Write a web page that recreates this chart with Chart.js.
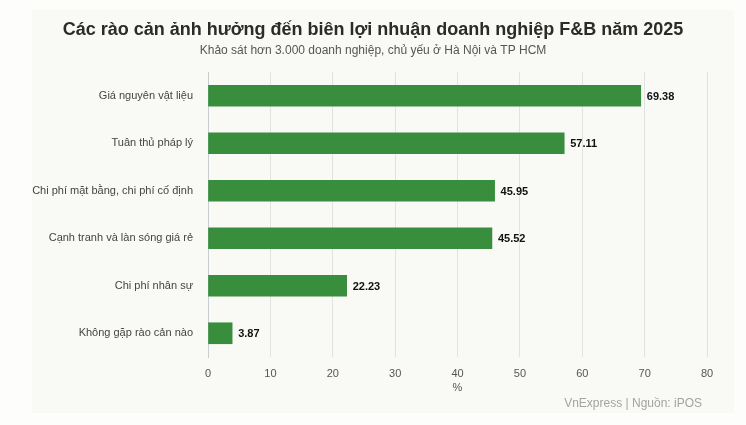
<!DOCTYPE html>
<html>
<head>
<meta charset="utf-8">
<script src="https://cdn.jsdelivr.net/npm/chart.js@4"></script>
<style>
  html, body { margin: 0; padding: 0; background: #fdfdfb; }
  #wrap { width: 746px; height: 425px; }
</style>
</head>
<body>
<div id="wrap"><canvas id="barrier"></canvas></div>
<script>
const categories = [
  'Giá nguyên vật liệu',
  'Tuân thủ pháp lý',
  'Chi phí mặt bằng, chi phí cố định',
  'Cạnh tranh và làn sóng giá rẻ',
  'Chi phí nhân sự',
  'Không gặp rào cản nào'
];
const shares = [69.38, 57.11, 45.95, 45.52, 22.23, 3.87];
const xTicks = [0, 10, 20, 30, 40, 50, 60, 70, 80];

const titleText = 'Các rào cản ảnh hưởng đến biên lợi nhuận doanh nghiệp F&B năm 2025';
const subtitleText = 'Khảo sát hơn 3.000 doanh nghiệp, chủ yếu ở Hà Nội và TP HCM';
const sourceText = 'VnExpress | Nguồn: iPOS';

const FONT = '"Liberation Sans", Arial, sans-serif';

// nền hai lớp giống ảnh gốc
const bgPlugin = {
  id: 'bg',
  beforeDraw(chart) {
    const c = chart.ctx;
    c.save();
    c.fillStyle = '#fdfdfb';
    c.fillRect(0, 0, chart.width, chart.height);
    c.fillStyle = '#f9faf6';
    c.fillRect(32, 10, chart.width - 44, chart.height - 22);
    c.restore();
  }
};

// tiêu đề, nhãn giá trị cạnh thanh, dòng nguồn
const labelPlugin = {
  id: 'labels',
  afterDatasetsDraw(chart) {
    const c = chart.ctx;
    const meta = chart.getDatasetMeta(0);
    c.save();
    c.font = 'bold 11px ' + FONT;
    c.fillStyle = '#111';
    c.textAlign = 'left';
    c.textBaseline = 'middle';
    meta.data.forEach((bar, i) => {
      c.fillText(shares[i].toFixed(2), bar.x + 6, bar.y + 1);
    });
    c.restore();
  },
  afterDraw(chart) {
    const c = chart.ctx;
    const mid = chart.width / 2;
    c.save();
    c.textBaseline = 'middle';
    c.textAlign = 'center';
    c.font = 'bold 18px ' + FONT;
    c.fillStyle = '#2b2b2b';
    c.fillText(titleText, mid, 30);
    c.font = '12px ' + FONT;
    c.fillStyle = '#555';
    c.fillText(subtitleText, mid, 51);
    c.textAlign = 'right';
    c.fillStyle = '#a3a3a3';
    c.fillText(sourceText, 702, 404);
    c.restore();
  }
};

new Chart(document.getElementById('barrier'), {
  type: 'bar',
  data: {
    labels: categories,
    datasets: [{
      data: shares,
      backgroundColor: '#388e3c',
      borderWidth: 0,
      barThickness: 21
    }]
  },
  options: {
    indexAxis: 'y',
    responsive: true,
    maintainAspectRatio: false,
    animation: false,
    layout: { padding: { left: 0, right: 39, bottom: 30, top: 72 } },
    plugins: {
      legend: { display: false },
      tooltip: { enabled: false },
      title: { display: false },
      subtitle: { display: false }
    },
    scales: {
      x: {
        min: 0,
        max: 80,
        afterBuildTicks(scale) {
          scale.ticks = xTicks.map(v => ({ value: v }));
        },
        afterFit(scale) { scale.height = 38; },
        grid: { color: '#e2e2e2', drawTicks: false },
        border: { display: false },
        ticks: { color: '#555', font: { family: FONT, size: 11 }, padding: 10 },
        title: {
          display: true,
          text: '%',
          color: '#555',
          font: { family: FONT, size: 11 },
          padding: { top: 4, bottom: 0 }
        }
      },
      y: {
        afterFit(scale) { scale.width = 208; },
        grid: { display: false, drawTicks: false },
        border: { display: true, color: '#c8cdd2', width: 1 },
        ticks: { color: '#444', font: { family: FONT, size: 11 }, padding: 15 }
      }
    }
  },
  plugins: [bgPlugin, labelPlugin]
});
</script>
</body>
</html>
